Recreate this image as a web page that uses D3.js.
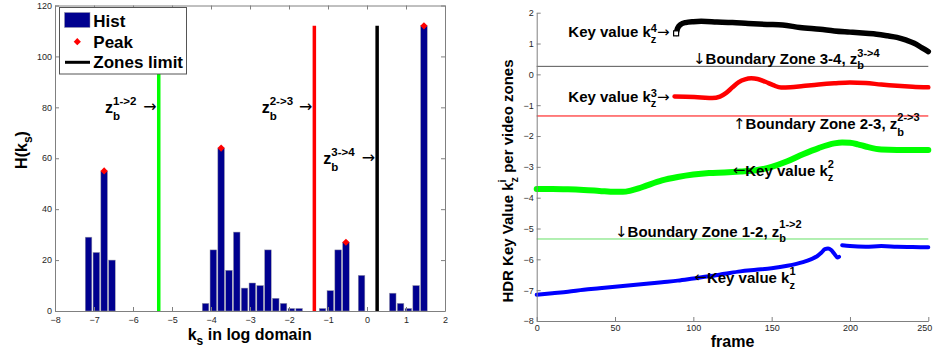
<!DOCTYPE html>
<html><head><meta charset="utf-8">
<script src="https://cdn.jsdelivr.net/npm/d3@7"></script>
<style>
body{margin:0;background:#fff}
svg{display:block}
text{font-family:"Liberation Sans",Arial,Helvetica,sans-serif;white-space:pre}
</style>
</head><body>
<svg id="c" width="933" height="358"></svg>
<script>
// ---------- Left chart data ----------
const histCenters = [-7.14,-6.94,-6.74,-6.54,-4.14,-3.94,-3.74,-3.54,-3.34,-3.14,-2.94,-2.74,-2.54,-2.34,-2.14,-1.94,-1.74,-1.14,-0.94,-0.74,-0.54,-0.14,0.66,0.86,1.06,1.26,1.46];
const histCounts  = [29,23,55,20,3,24,64,16,31,9,11,10,24,5,3,1,1,1,8,24,27,14,7,3,1,10,112];
const peakX = [-6.74,-3.74,-0.54,1.46];
const peakY = [55,64,27,112];
const zoneLimits = [-5.34,-1.35,0.26];
const zoneNames = ["1->2","2->3","3->4"];
const zoneTop = 112;
const xTicksL = [-8,-7,-6,-5,-4,-3,-2,-1,0,1,2];
const yTicksL = [0,20,40,60,80,100,120];
const legendLabels = ["Hist","Peak","Zones limit"];

// ---------- Right chart data ----------
const framesK4 = [89,90,92,95,100,105,115,125,135,147,157,168,181,190,200,210,217,224,230,236,241,246,250];
const valuesK4 = [1.33,1.50,1.62,1.68,1.71,1.72,1.70,1.68,1.65,1.62,1.60,1.52,1.46,1.41,1.37,1.33,1.30,1.25,1.20,1.11,1.01,0.86,0.74];
const framesK3 = [88,95,105,112,117,121,125,129,133,137,141,146,151,156,162,170,180,190,200,210,220,230,240,250];
const valuesK3 = [-0.72,-0.73,-0.75,-0.77,-0.72,-0.60,-0.42,-0.25,-0.16,-0.13,-0.15,-0.24,-0.35,-0.43,-0.42,-0.38,-0.33,-0.29,-0.26,-0.28,-0.33,-0.37,-0.40,-0.42];
const framesK2 = [0,10,20,30,40,50,55,60,65,70,80,90,100,110,120,130,140,150,160,170,180,190,195,200,205,210,220,230,240,250];
const valuesK2 = [-3.72,-3.72,-3.73,-3.75,-3.78,-3.81,-3.81,-3.77,-3.70,-3.61,-3.44,-3.33,-3.25,-3.20,-3.18,-3.15,-3.11,-3.00,-2.82,-2.59,-2.39,-2.24,-2.21,-2.22,-2.27,-2.34,-2.44,-2.45,-2.45,-2.45];
const framesK1 = [0,10,20,30,40,50,60,70,80,90,100,110,120,130,140,150,160,170,175,179,182,184,186,188,190,192,193,194,195,200,210,220,230,240,250];
const valuesK1 = [-7.15,-7.10,-7.05,-6.99,-6.94,-6.89,-6.84,-6.79,-6.74,-6.69,-6.62,-6.55,-6.47,-6.39,-6.34,-6.29,-6.21,-6.09,-6.00,-5.90,-5.77,-5.67,-5.65,-5.70,-5.82,-5.94,-5.92,null,-5.54,-5.57,-5.59,-5.57,-5.59,-5.60,-5.61];
const xTicksR = [0,50,100,150,200,250];
const yTicksR = [-8,-7,-6,-5,-4,-3,-2,-1,0,1,2];

const svg = d3.select("#c");
const gray = "#808080";
const tickColor = "#262626";
const arrowFont = '"DejaVu Sans",sans-serif';

// rich text helper: parts = {t, normal, size, font} or {sup, sub}
function rich(g, x, y, parts, size, small, supOff, subOff) {
  let cx = x;
  parts.forEach(p => {
    if (p.t !== undefined) {
      const el = g.append("text").attr("x", cx).attr("y", y + (p.dy || 0))
        .attr("font-size", p.size || size)
        .attr("font-weight", p.normal ? "normal" : "bold").attr("fill", "#000").text(p.t);
      if (p.font) el.style("font-family", p.font);
      cx += el.node().getComputedTextLength();
    } else {
      let w = 0;
      if (p.sup) {
        const e = g.append("text").attr("x", cx).attr("y", y - supOff)
          .attr("font-size", small).attr("font-weight", "bold").text(p.sup);
        w = Math.max(w, e.node().getComputedTextLength());
      }
      if (p.sub) {
        const e = g.append("text").attr("x", cx).attr("y", y + subOff)
          .attr("font-size", small).attr("font-weight", "bold").text(p.sub);
        w = Math.max(w, e.node().getComputedTextLength());
      }
      cx += w;
    }
  });
  return cx;
}

// ================= LEFT CHART =================
const xL = d3.scaleLinear().domain([-8, 2]).range([55, 445]);
const yL = d3.scaleLinear().domain([0, 120]).range([311, 5.5]);
const gL = svg.append("g");

// bars
gL.selectAll("rect.bar").data(histCenters.map((c, i) => ({c, v: histCounts[i]})))
  .enter().append("rect").attr("class", "bar")
  .attr("x", d => xL(d.c - 0.1) + 0.6)
  .attr("width", d => xL(d.c + 0.1) - xL(d.c - 0.1) - 1.2)
  .attr("y", d => yL(d.v))
  .attr("height", d => yL(0) - yL(d.v))
  .attr("fill", "#00008f").attr("stroke", "#9a9aa8").attr("stroke-width", 0.5);

// zone limit lines
const zoneColors = ["#00ff00", "#ff0000", "#000000"];
zoneLimits.forEach((z, i) => {
  gL.append("line").attr("x1", xL(z)).attr("x2", xL(z))
    .attr("y1", yL(0)).attr("y2", yL(zoneTop))
    .attr("stroke", zoneColors[i]).attr("stroke-width", 3.5);
});

// peaks (diamond = rotated square)
const diamond = d3.symbol().type(d3.symbolSquare).size(26);
gL.selectAll("path.peak").data(peakX.map((x, i) => ({x, y: peakY[i]})))
  .enter().append("path").attr("class", "peak")
  .attr("transform", d => `translate(${xL(d.x)},${yL(d.y)}) rotate(45)`)
  .attr("d", diamond).attr("fill", "#ff0000");

// axes box
function styleAxis(g, fs) {
  g.selectAll("path.domain").attr("stroke", gray);
  g.selectAll(".tick line").attr("stroke", gray);
  g.selectAll(".tick text").attr("fill", tickColor).attr("font-size", fs)
    .attr("font-family", '"Liberation Sans",Arial,sans-serif');
}
const axB = gL.append("g").attr("transform", `translate(0,${yL(0)})`)
  .call(d3.axisBottom(xL).tickValues(xTicksL).tickSize(-4).tickSizeOuter(0).tickPadding(6).tickFormat(d3.format("d")));
styleAxis(axB, 9);
const axT = gL.append("g").attr("transform", `translate(0,${yL(120)})`)
  .call(d3.axisTop(xL).tickValues(xTicksL).tickSize(-4).tickSizeOuter(0).tickFormat(""));
styleAxis(axT, 9);
const axLft = gL.append("g").attr("transform", `translate(${xL(-8)},0)`)
  .call(d3.axisLeft(yL).tickValues(yTicksL).tickSize(-4).tickSizeOuter(0).tickPadding(3));
styleAxis(axLft, 9);
axLft.selectAll(".tick text").attr("dy", "0.3em");
const axR = gL.append("g").attr("transform", `translate(${xL(2)},0)`)
  .call(d3.axisRight(yL).tickValues(yTicksL).tickSize(-4).tickSizeOuter(0).tickFormat(""));
styleAxis(axR, 9);

// annotations left
const zAnnY = [80, 80, 60];
const zAnnX = [105, 261.7, 323.3];
zoneLimits.forEach((z, i) => {
  const by = yL(zAnnY[i]) + 5.7;
  rich(gL, zAnnX[i], by, [{t: "z"}, {sup: zoneNames[i], sub: "b"}], 16, 11.5, 8, 6.6);
  gL.append("text").attr("x", xL(z) - 2).attr("y", yL(zAnnY[i]) + 5)
    .attr("text-anchor", "end").attr("font-size", 16).attr("font-weight", "normal")
    .style("font-family", arrowFont).text("→");
});

// legend
const lg = gL.append("g");
lg.append("rect").attr("x", 59.5).attr("y", 7.5).attr("width", 127).attr("height", 66.5)
  .attr("fill", "#fff").attr("stroke", "#555").attr("stroke-width", 1);
lg.append("rect").attr("x", 64.5).attr("y", 12.5).attr("width", 25.5).attr("height", 15)
  .attr("fill", "#00008f").attr("stroke", "#9a9aa8").attr("stroke-width", 0.5);
lg.append("path").attr("transform", "translate(77.3,41.7) rotate(45)").attr("d", diamond).attr("fill", "#ff0000");
lg.append("line").attr("x1", 65).attr("x2", 90).attr("y1", 62.3).attr("y2", 62.3)
  .attr("stroke", "#000").attr("stroke-width", 3);
const legY = [26.7, 47.7, 68.3];
legendLabels.forEach((l, i) => {
  lg.append("text").attr("x", 93.3).attr("y", legY[i]).attr("font-size", 17)
    .attr("font-weight", "bold").text(l);
});

// axis labels left
rich(gL, 187.7, 340, [{t: "k"}, {sub: "s"}, {t: " in log domain"}], 16, 12, 6, 5);
const hl = gL.append("g");
const hw = rich(hl, 0, 0, [{t: "H(k"}, {sub: "s"}, {t: ")"}], 16, 12, 6, 5);
hl.attr("transform", `translate(26.7,${150 + hw / 2}) rotate(-90)`);

// ================= RIGHT CHART =================
const xR = d3.scaleLinear().domain([0, 250]).range([536.7, 928.3]);
const yR = d3.scaleLinear().domain([-8, 2]).range([321, 12.7]);
const gR = svg.append("g");

// boundary lines
const bColors = ["#66e066", "#ff0000", "#555555"];
zoneLimits.forEach((z, i) => {
  gR.append("line").attr("x1", xR(0)).attr("x2", xR(250))
    .attr("y1", yR(z)).attr("y2", yR(z))
    .attr("stroke", bColors[i]).attr("stroke-width", 1);
});

const line = d3.line().defined(d => d.v !== null).x(d => xR(d.f)).y(d => yR(d.v)).curve(d3.curveMonotoneX);
function series(frames, values, color, w) {
  gR.append("path").datum(frames.map((f, i) => ({f, v: values[i]})))
    .attr("d", line).attr("fill", "none").attr("stroke", color)
    .attr("stroke-width", w).attr("stroke-linejoin", "round").attr("stroke-linecap", "round");
}
series(framesK2, valuesK2, "#00ff00", 6);
series(framesK1, valuesK1, "#0000ff", 4);
series(framesK3, valuesK3, "#ff0000", 4.5);
series(framesK4, valuesK4, "#000000", 5.5);
gR.append("rect").attr("x", xR(framesK4[0]) - 2.5).attr("y", yR(valuesK4[0]) - 2.5)
  .attr("width", 5).attr("height", 5).attr("fill", "#fff").attr("stroke", "#000").attr("stroke-width", 1.2);

// axes
const axRB = gR.append("g").attr("transform", `translate(0,${yR(-8)})`)
  .call(d3.axisBottom(xR).tickValues(xTicksR).tickSize(-4).tickSizeOuter(0).tickPadding(4));
styleAxis(axRB, 9);
// keep the last label inside the page edge
axRB.selectAll(".tick text").filter(d => d === xTicksR[xTicksR.length - 1]).attr("dx", -4);
const axRL = gR.append("g").attr("transform", `translate(${xR(0)},0)`)
  .call(d3.axisLeft(yR).tickValues(yTicksR).tickSize(-4).tickSizeOuter(0).tickPadding(3));
styleAxis(axRL, 9);

// annotations right
const fs = 15, sm = 11;
const arR = {t: "→", normal: true, size: 15, font: arrowFont, dy: 0};
const arL = {t: "←", normal: true, size: 15, font: arrowFont, dy: -1};
const arD = {t: "↓", normal: true, size: 15, font: arrowFont};
const arU = {t: "↑", normal: true, size: 15, font: arrowFont};
rich(gR, 568.3, 37.3, [{t: "Key value k"}, {sup: "4", sub: "z"}, arR], fs, sm, 5, 5.5);
rich(gR, 693, 63.5, [arD, {t: "Boundary Zone 3-4, z"}, {sup: "3->4", sub: "b"}], fs, sm, 6.5, 5);
rich(gR, 568.3, 101.7, [{t: "Key value k"}, {sup: "3", sub: "z"}, arR], fs, sm, 5, 5.5);
rich(gR, 733, 129.3, [arU, {t: "Boundary Zone 2-3, z"}, {sup: "2->3", sub: "b"}], fs, sm, 8.5, 6.5);
rich(gR, 732.7, 175.7, [arL, {t: "Key value k"}, {sup: "2", sub: "z"}], fs, sm, 8, 5.5);
rich(gR, 615, 236.7, [arD, {t: "Boundary Zone 1-2, z"}, {sup: "1->2", sub: "b"}], fs, sm, 8.5, 5);
rich(gR, 694.3, 283.3, [arL, {t: "Key value k"}, {sup: "1", sub: "z"}], fs, sm, 8, 5.5);

// axis labels right
gR.append("text").attr("x", 732.5).attr("y", 346.7).attr("text-anchor", "middle")
  .attr("font-size", 16).attr("font-weight", "bold").text("frame");
const yl = gR.append("g");
const yw = rich(yl, 0, 0, [{t: "HDR Key Value k"}, {sup: "i", sub: "z"}, {t: " per video zones"}], 15, 11, 7, 5);
yl.attr("transform", `translate(513.3,${181 + yw / 2}) rotate(-90)`);
</script>
</body></html>
